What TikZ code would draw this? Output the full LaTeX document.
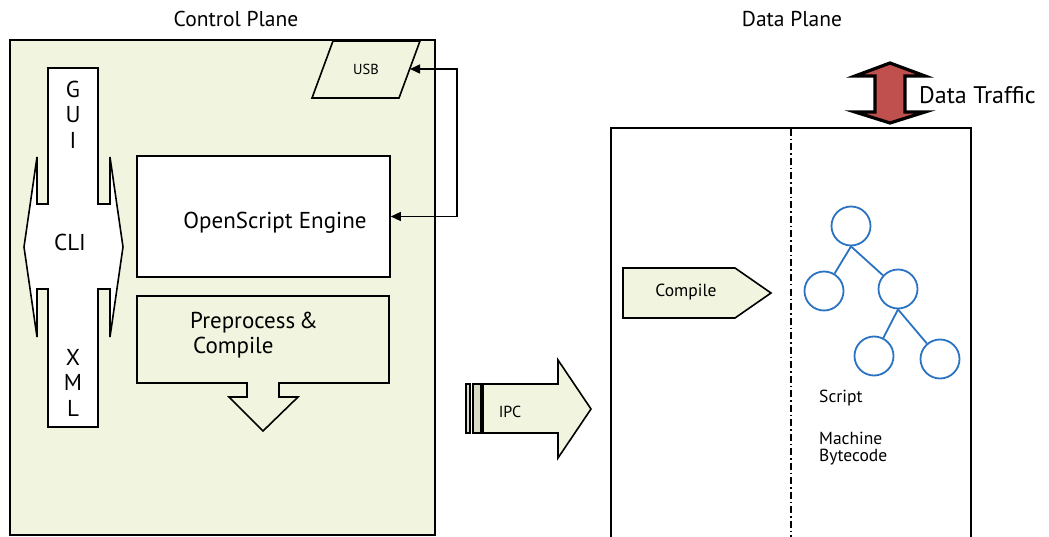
\documentclass[tikz,border=0pt]{standalone}
\usepackage{fontspec}
\setmainfont{PT Sans}
\usetikzlibrary{arrows.meta}
\definecolor{paneg}{HTML}{F1F5DF}
\definecolor{bargreen}{HTML}{DADDC6}
\definecolor{trafred}{HTML}{C0504D}
\definecolor{treeblue}{HTML}{2A73C2}
\tikzset{
  outl/.style={draw=black,line width=1.6pt,line join=miter},
  link/.style={draw=black,line width=1.5pt,{Triangle[length=10pt,width=9pt]}-{Triangle[length=10pt,width=9pt]}},
  bigtxt/.style={font=\fontsize{23}{26}\selectfont,inner sep=0pt},
  titletxt/.style={font=\fontsize{21.5}{24}\selectfont,inner sep=0pt},
  traffictxt/.style={font=\fontsize{24}{27}\selectfont,inner sep=0pt},
  labeltxt/.style={font=\fontsize{17.5}{20}\selectfont,inner sep=0pt},
  usbtxt/.style={font=\fontsize{14.5}{17}\selectfont,inner sep=0pt},
  ipctxt/.style={font=\fontsize{16}{18}\selectfont,inner sep=0pt},
  treenode/.style={circle,draw=treeblue,line width=1.8pt,minimum size=39pt,inner sep=0pt},
  treeedge/.style={draw=treeblue,line width=1.8pt},
}
\begin{document}
\begin{tikzpicture}[x=1pt,y=-1pt]
\useasboundingbox (0,0) rectangle (1049,537);

% ---------------- control plane ----------------
\draw[outl,fill=paneg] (10,40) rectangle (435,535);
\node[titletxt] (cptitle) at (236,19) {Control Plane};

% GUI / CLI / XML cross
\draw[outl,fill=white]
  (48,68) -- (98,68) -- (98,204) -- (110,204) -- (110,157) -- (123,247)
  -- (110,337) -- (110,289) -- (98,289) -- (98,427) -- (48,427) -- (48,289)
  -- (37,289) -- (37,337) -- (24,247) -- (37,157) -- (37,204) -- (48,204) -- cycle;
\node[bigtxt] (g) at (73,89) {G};
\node[bigtxt] (u) at (73,115) {U};
\node[bigtxt] (i) at (73,140) {I};
\node[bigtxt] (cli) at (70,242) {CLI};
\node[bigtxt] (x) at (73,357) {X};
\node[bigtxt] (m) at (73,382) {M};
\node[bigtxt] (l) at (73,408) {L};

% engine
\node[outl,fill=white,minimum width=253pt,minimum height=121pt] (engine) at (263.5,216.5) {};
\node[bigtxt] (enginetxt) at (275,223) {OpenScript Engine};

% preprocess & compile block arrow
\draw[outl,fill=paneg]
  (137,296) -- (389,296) -- (389,383) -- (279,383) -- (279,397) -- (298,397)
  -- (263,431) -- (229,397) -- (247,397) -- (247,383) -- (137,383) -- cycle;
\node[bigtxt,anchor=west] (pre1) at (190,323) {Preprocess\,\&};
\node[bigtxt,anchor=west] (pre2) at (193,348) {Compile};

% USB
\draw[outl,fill=paneg] (333,41) -- (420,41) -- (399,98) -- (312,98) -- cycle;
\node[usbtxt] (usb) at (366,69) {USB};
\coordinate (usbin) at (410,69);
\coordinate (bendtop) at (457,69);
\coordinate (bendbot) at (457,216.5);
\draw[link] (engine.east) -- (bendbot) -- (bendtop) -- (usbin);

% ---------------- IPC ----------------
\draw[draw=black,line width=1.2pt,fill=bargreen] (466,384) rectangle (470,433);
\draw[draw=black,line width=1.2pt,fill=bargreen] (473,384) rectangle (481,433);
\draw[outl,fill=paneg]
  (483,384) -- (558,384) -- (558,360) -- (591,409) -- (558,458) -- (558,433) -- (483,433) -- cycle;
\node[ipctxt] (ipc) at (510,412) {IPC};

% ---------------- data plane ----------------
\node[titletxt] (dptitle) at (792,19) {Data Plane};
\draw[outl] (611,545) -- (611,128) -- (971,128) -- (971,545);
\draw[line width=1.5pt,dash pattern=on 7pt off 3pt on 1.5pt off 3pt] (791,129) -- (791,545);

% data traffic
\draw[draw=black,line width=3.2pt,line join=miter,fill=trafred]
  (890,63) -- (925,76) -- (905,76) -- (905,112) -- (925,112) -- (890,123)
  -- (855,112) -- (875,112) -- (875,76) -- (855,76) -- cycle;
\node[traffictxt,anchor=west] (traffic) at (919,95) {Data Traffic};

% compile
\draw[outl,fill=paneg] (623,268) -- (735,268) -- (771,293) -- (735,318) -- (623,318) -- cycle;
\node[labeltxt] (compile) at (686,292) {Compile};

% bytecode tree
\node[treenode] (t0) at (851,226) {};
\node[treenode] (t1) at (824,291) {};
\node[treenode] (t2) at (898,289) {};
\node[treenode] (t3) at (874,356) {};
\node[treenode] (t4) at (940,359) {};
\draw[treeedge] (t0.south) -- (t1);
\draw[treeedge] (t0.south) -- (t2);
\draw[treeedge] (t2.south) -- (t3);
\draw[treeedge] (t2.south) -- (t4);

\node[labeltxt,anchor=west] (script) at (819,398) {Script};
\node[labeltxt,anchor=west] (mach) at (819,438) {Machine};
\node[labeltxt,anchor=west] (byte) at (819,457) {Bytecode};
\end{tikzpicture}
\end{document}
